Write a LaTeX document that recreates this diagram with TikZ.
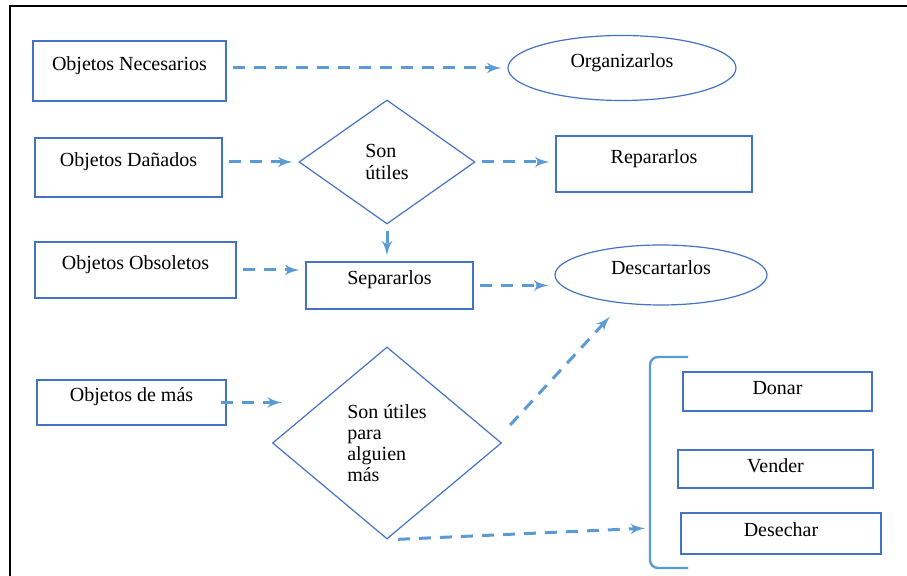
\documentclass[tikz,border=0pt]{standalone}
\usepackage{fontspec}
\setmainfont{Liberation Serif}
\usepackage{tikz}
\usetikzlibrary{shapes,arrows}
\definecolor{boxblue}{RGB}{68,114,196}
\definecolor{arrowblue}{RGB}{91,155,213}

\begin{document}
\begin{tikzpicture}[>=latex', x=0.5pt, y=-0.5pt]
    \tikzstyle{block} = [draw=boxblue, shape=rectangle, line width=0.6pt, font=\fontsize{10}{12}\selectfont, text height=7pt, text depth=7.5pt];
    \tikzstyle{choice} = [block, text depth=3.5pt];
    \tikzstyle{goal} = [draw=boxblue, shape=ellipse, line width=0.6pt, font=\fontsize{10}{12}\selectfont, text height=7pt, text depth=7pt];
    \tikzstyle{decision} = [draw=boxblue, shape=diamond, line width=0.6pt, inner sep=0pt, align=left];
    \tikzstyle{conn} = [->, draw=arrowblue, line width=1.5pt, dash pattern=on 6pt off 4.5pt, shorten <=3pt, shorten >=3pt];
    \tikzstyle{bracket} = [draw=arrowblue, line width=1.2pt, rounded corners=4pt];

    \useasboundingbox (0,0) rectangle (907,576);
    \draw [line width=1.2pt] (907,6) -- (10,6) -- (10,576);

    % Nodes
    \node [block, minimum width=96.5pt, minimum height=30pt] (necesarios) at (129.5,71) {Objetos Necesarios};
    \node [block, minimum width=93.5pt, minimum height=29.5pt] (danados) at (128.5,167.5) {Objetos Dañados};
    \node [block, minimum width=100.5pt, minimum height=28pt] (obsoletos) at (135.5,270) {Objetos Obsoletos};
    \node [block, minimum width=94.5pt, minimum height=22.5pt] (masobj) at (131.5,402.5) {Objetos de más};
    \node [goal, minimum width=114pt, minimum height=32.5pt] (organizar) at (622,68) {Organizarlos};
    \node [decision, aspect=1.42, minimum width=88pt, minimum height=62pt, font=\fontsize{10}{11}\selectfont] (util1) at (387,162) {Son\\útiles};
    \node [block, minimum width=98pt, minimum height=28pt] (reparar) at (654,164) {Repararlos};
    \node [block, minimum width=83.5pt, minimum height=23.5pt] (separar) at (389.5,285.5) {Separarlos};
    \node [goal, minimum width=106pt, minimum height=30pt] (descartar) at (661,275) {Descartarlos};
    \node [decision, aspect=1.2, minimum width=114.5pt, minimum height=96pt, font=\fontsize{10}{10.5}\selectfont] (util2) at (387,443) {Son útiles\\para\\alguien\\más};
    \node [choice, minimum width=94.5pt, minimum height=19.5pt] (donar) at (777.5,391.5) {Donar};
    \node [choice, minimum width=97.5pt, minimum height=19pt] (vender) at (775.5,469) {Vender};
    \node [choice, minimum width=100pt, minimum height=20.5pt] (desechar) at (781,533.5) {Desechar};
    \coordinate (llave) at (651,528);

    % Paths
    \draw [bracket] (688,357) -| (650,568) -- (688,568);
    \draw [conn] (necesarios.east |- organizar.west) -- (organizar.west);
    \draw [conn] (danados.east |- util1.west) -- (util1.west);
    \draw [conn] (util1.east) -- (util1.east -| reparar.west);
    \draw [conn] (util1.south) -- (util1.south |- separar.north);
    \draw [conn] (obsoletos.east) -- (obsoletos.east -| separar.west);
    \draw [conn] (separar.east) -- (separar.east -| descartar.west);
    \draw [conn, shorten <=-3pt, shorten >=-5pt] (masobj.east) -- (masobj.east -| util2.west);
    \draw [conn] ([xshift=2pt,yshift=6.8pt]util2.east) -- ([xshift=-23.5pt,yshift=-3.3pt]descartar.south);
    \draw [conn] ([xshift=2.5pt]util2.south) -- (llave);
\end{tikzpicture}
\end{document}
